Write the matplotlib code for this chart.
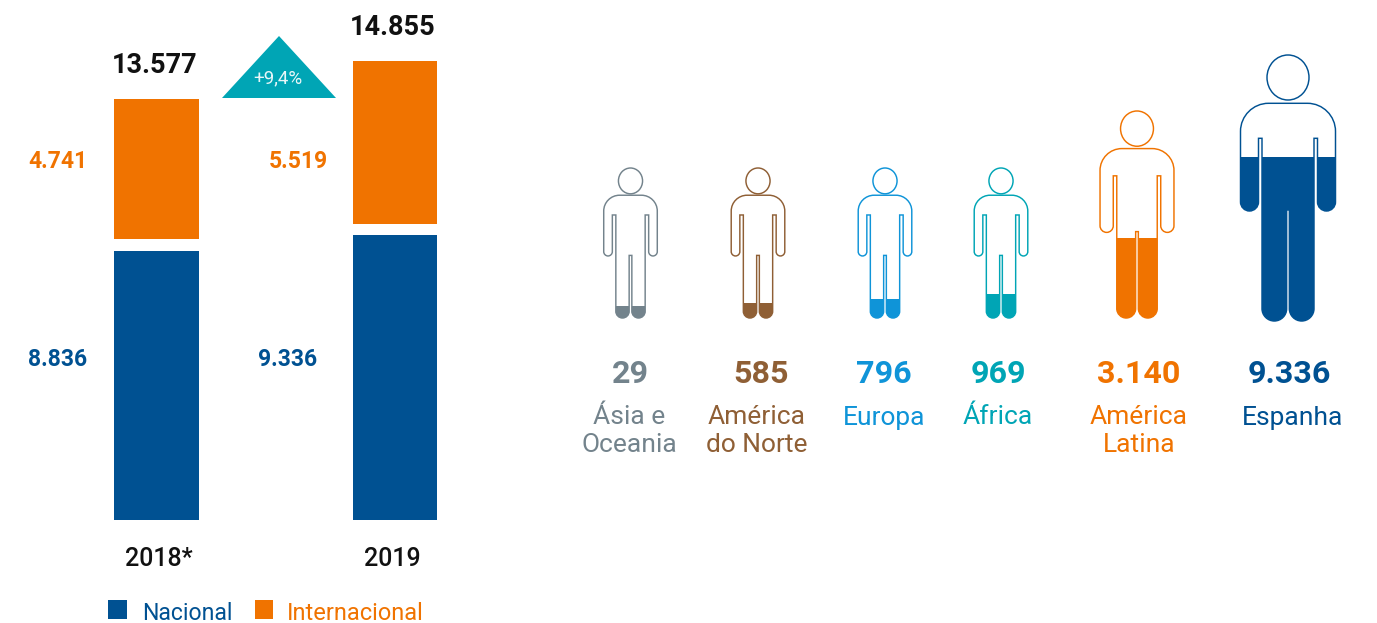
import matplotlib.pyplot as plt
from matplotlib.patches import Ellipse, PathPatch, Polygon, Rectangle
from matplotlib.path import Path

# data
years = ['2018*', '2019']
nacional = [8836, 9336]
internacional = [4741, 5519]
totals = [13577, 14855]
growth_label = '+9,4%'
legend_labels = ['Nacional', 'Internacional']

regions = ['Ásia e\nOceania', 'América\ndo Norte', 'Europa', 'África', 'América\nLatina', 'Espanha']
region_values = [29, 585, 796, 969, 3140, 9336]

# style / layout (pixel space, y pointing down)
blue = '#005192'
orange = '#f07300'
teal = '#00a5b5'
region_colours = ['#73838c', '#8f5f35', '#0f94d8', teal, orange, blue]
bar_left = [114, 352.5]
bar_width = [84.5, 84]
baseline = 520
gap = 11.5
scale_nac = 0.0305
scale_int = 0.0295

person_x = [630.5, 758, 885, 1001, 1137, 1288]
person_top = [168, 168, 168, 168, 111, 55]
person_bottom = [318, 318, 318, 318, 318, 321]
fill_top = [305.5, 302.5, 299, 294, 237.5, 157]
value_x = [630, 761, 884, 998, 1139, 1289]
label_x = [629, 757, 884, 998, 1139, 1293]

plt.rcParams['font.family'] = ['Roboto', 'DejaVu Sans']


def fmt(v):
    return f'{v:,}'.replace(',', '.')


def person_path(cx, top, bottom):
    s = (bottom - top) / 266
    hw = 47.5 * s
    lw = 26 * s
    arm_gap = 3.5
    leg_gap = 2.7
    ys = top + 48.3 * s
    r = 28 * s
    gap_top = top + 83.3 * s
    arm_end = top + 156 * s
    crotch = top + 155 * s
    arm_r = (hw - lw - arm_gap) / 2
    leg_r = (lw - leg_gap / 2) / 2
    k = 0.55

    verts = [(cx - hw + r, ys)]
    codes = [Path.MOVETO]

    def line(x, y):
        verts.append((x, y))
        codes.append(Path.LINETO)

    def curve(c1, c2, end):
        verts.extend([c1, c2, end])
        codes.extend([Path.CURVE4] * 3)

    def u_turn(x0, x1, y, rad):
        # rounded end going from x0 to x1 at the bottom of an arm or leg
        mid = (x0 + x1) / 2
        d = 1 if x1 > x0 else -1
        curve((x0, y + rad * k), (mid - d * rad * k, y + rad), (mid, y + rad))
        curve((mid + d * rad * k, y + rad), (x1, y + rad * k), (x1, y))

    line(cx + hw - r, ys)
    curve((cx + hw - r + r * k, ys), (cx + hw, ys + r - r * k), (cx + hw, ys + r))
    # right arm
    line(cx + hw, arm_end - arm_r)
    u_turn(cx + hw, cx + lw + arm_gap, arm_end - arm_r, arm_r)
    line(cx + lw + arm_gap, gap_top)
    line(cx + lw, gap_top)
    # right leg
    line(cx + lw, bottom - leg_r)
    u_turn(cx + lw, cx + leg_gap / 2, bottom - leg_r, leg_r)
    line(cx + leg_gap / 2, crotch)
    line(cx - leg_gap / 2, crotch)
    # left leg
    line(cx - leg_gap / 2, bottom - leg_r)
    u_turn(cx - leg_gap / 2, cx - lw, bottom - leg_r, leg_r)
    line(cx - lw, gap_top)
    line(cx - lw - arm_gap, gap_top)
    # left arm
    line(cx - lw - arm_gap, arm_end - arm_r)
    u_turn(cx - lw - arm_gap, cx - hw, arm_end - arm_r, arm_r)
    line(cx - hw, ys + r)
    curve((cx - hw, ys + r - r * k), (cx - hw + r - r * k, ys), (cx - hw + r, ys))
    verts.append((cx - hw + r, ys))
    codes.append(Path.CLOSEPOLY)
    return Path(verts, codes), s


fig = plt.figure(figsize=(13.77, 6.23), dpi=100)
ax = fig.add_axes([0, 0, 1, 1])
ax.set_xlim(0, 1377)
ax.set_ylim(623, 0)
ax.axis('off')

# stacked bars
for i in range(2):
    h_nac = nacional[i] * scale_nac
    h_int = internacional[i] * scale_int
    int_bottom = baseline - h_nac - gap
    ax.bar(bar_left[i], -h_nac, bar_width[i], bottom=baseline, align='edge', color=blue)
    ax.bar(bar_left[i], -h_int, bar_width[i], bottom=int_bottom, align='edge', color=orange)

    cx = bar_left[i] + bar_width[i] / 2
    side_x = [58, 298][i]
    side_x2 = [58, 288][i]
    ax.text(side_x, 162, fmt(internacional[i]), color=orange, fontsize=16.5, fontweight='bold',
            ha='center', va='center')
    ax.text(side_x2, 360, fmt(nacional[i]), color=blue, fontsize=16.5, fontweight='bold',
            ha='center', va='center')
    ax.text(cx - 2, int_bottom - h_int - 33.5, fmt(totals[i]), color='#111111', fontsize=19.5,
            fontweight='bold', ha='center', va='center')
    ax.text([158.5, 392][i], 559, years[i], color='#111111', fontsize=18, fontweight='medium',
            ha='center', va='center')

# growth triangle
ax.add_patch(Polygon([(222, 98), (279, 36), (336, 98)], closed=True, color=teal, lw=0))
ax.text(277.5, 78, growth_label, color='#e8f6f8', fontsize=13.5, ha='center', va='center')

# legend
ax.add_patch(Rectangle((108, 600), 19, 18.5, color=blue, lw=0))
ax.text(142, 613, legend_labels[0], color=blue, fontsize=16.6, ha='left', va='center')
ax.add_patch(Rectangle((255, 600), 18, 18.5, color=orange, lw=0))
ax.text(287, 613, legend_labels[1], color=orange, fontsize=17, ha='left', va='center')

# people
for i in range(len(regions)):
    c = region_colours[i]
    path, s = person_path(person_x[i], person_top[i], person_bottom[i])
    fill = PathPatch(path, facecolor=c, edgecolor='none', lw=0)
    ax.add_patch(fill)
    fill.set_clip_path(Rectangle((0, fill_top[i]), 1377, 623 - fill_top[i], transform=ax.transData))
    ax.add_patch(PathPatch(path, facecolor='none', edgecolor=c, lw=1.05))
    rx = 20.5 * s + 0.5
    ry = 22 * s + 0.5
    ax.add_patch(Ellipse((person_x[i], person_top[i] + ry), rx * 2, ry * 2, facecolor='none', edgecolor=c, lw=1.05))

    ax.text(value_x[i], 374, fmt(region_values[i]), color=c, fontsize=23.2, fontweight='bold',
            ha='center', va='center')
    ax.text(label_x[i], 405.5, regions[i], color=c, fontsize=19, ha='center', va='top', linespacing=1.2)

fig.savefig('out.png', dpi=100)
